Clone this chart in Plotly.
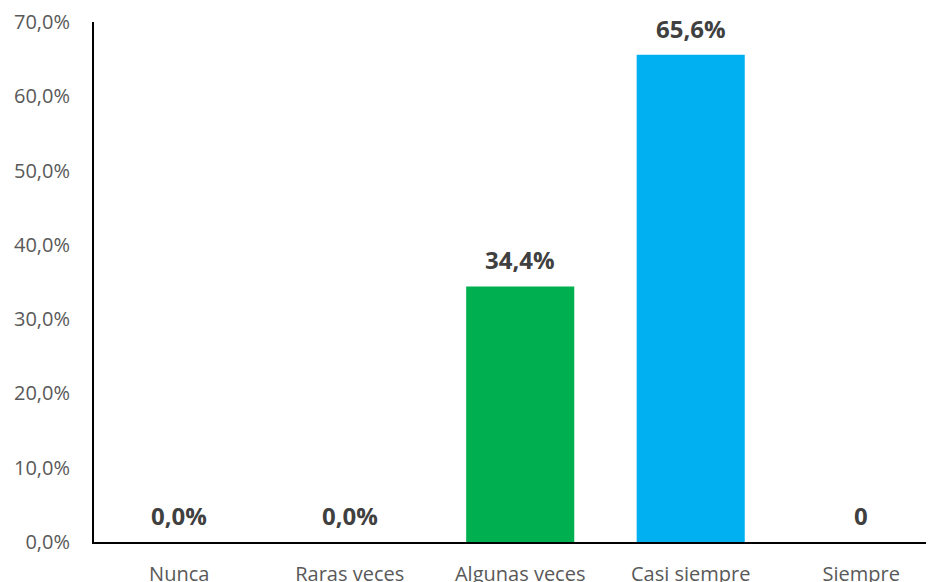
import plotly.graph_objects as go

categorias = ["Nunca", "Raras veces", "Algunas veces", "Casi siempre", "Siempre"]
valores = [0.0, 0.0, 0.344, 0.656, 0.0]
etiquetas = ["0,0%", "0,0%", "34,4%", "65,6%", "0"]
colores = ["#00B050", "#00B050", "#00B050", "#00B0F0", "#00B0F0"]

fig = go.Figure()

fig.add_trace(go.Bar(
    x=categorias, y=valores,
    marker=dict(color=colores, line=dict(width=0)),
    width=0.634,
    hoverinfo="skip",
))

# etiquetas de datos (encima de cada barra, como en Excel)
for cat, val, txt in zip(categorias, valores, etiquetas):
    fig.add_annotation(
        x=cat, y=val, text=f"<b>{txt}</b>",
        showarrow=False, yanchor="bottom", yshift=8,
        font=dict(family="Open Sans", size=24, color="#404040"),
    )

# la página añade 8px de margen al body, se descuenta aquí
fig.update_layout(
    width=926, height=574,
    margin=dict(l=86, r=0, t=14, b=40),
    paper_bgcolor="white", plot_bgcolor="white",
    separators=",.",
    showlegend=False,
    font=dict(family="Open Sans", size=20, color="#595959"),
    xaxis=dict(
        type="category", range=[-0.5, 4.427], automargin=False,
        showline=True, linecolor="black", linewidth=2,
        showgrid=False, ticks="", ticklabelstandoff=13,
        tickfont=dict(size=20, color="#595959"),
    ),
    yaxis=dict(
        range=[0, 0.7], dtick=0.1, tickformat=".1%", automargin=False,
        showline=True, linecolor="black", linewidth=2,
        showgrid=False, zeroline=False, ticks="", ticklabelstandoff=18,
        tickfont=dict(size=20, color="#595959"),
    ),
)

fig.write_html("out.html")
